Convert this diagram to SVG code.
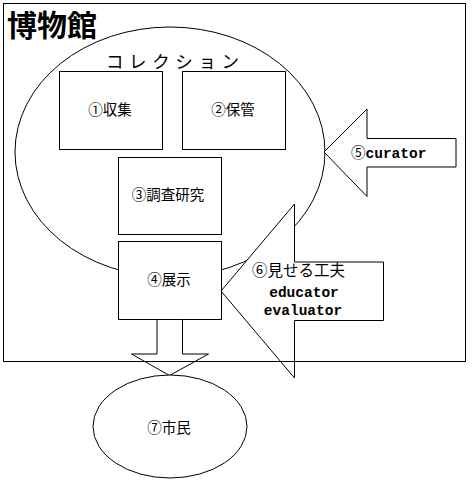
<svg xmlns="http://www.w3.org/2000/svg" width="475" height="480" viewBox="0 0 475 480">
<style>
.ln{fill:#fff;stroke:#000;stroke-width:1}
.no{fill:none;stroke:#000;stroke-width:1}
.jp{font-family:"Noto Sans CJK JP","Noto Sans",sans-serif;font-size:14.5px;fill:#000;text-anchor:middle}
.en{font-family:"Liberation Mono","DejaVu Sans Mono",monospace;font-weight:bold;font-size:14.5px;fill:#000}
</style>
<rect width="475" height="480" fill="#fff"/>
<g id="collection">
<ellipse class="ln" cx="170" cy="152" rx="155" ry="125"/>
<text x="106" y="68" font-family="'Noto Sans CJK JP',sans-serif" font-size="17.5" letter-spacing="5.6">コレクション</text>
</g>
<g id="n1"><rect class="ln" x="59.5" y="71.5" width="103" height="78"/><text class="jp" x="110" y="115">①収集</text></g>
<g id="n2"><rect class="ln" x="182.5" y="71.5" width="103" height="78"/><text class="jp" x="233" y="115">②保管</text></g>
<g id="n3"><rect class="ln" x="118.5" y="157.5" width="103" height="77"/><text class="jp" x="168" y="200">③調査研究</text></g>
<g id="n4"><rect class="ln" x="118.5" y="241.5" width="103" height="78"/><text class="jp" x="169" y="285">④展示</text></g>
<g id="connectors">
<polygon class="ln" points="157,319.5 182.5,319.5 182.5,354 208.5,354 169.5,375.5 131.5,354 157,354"/>
</g>
<g id="n5">
<polygon class="ln" points="324,152 367,109 367,138.5 456,138.5 456,167 367,167 367,196.5"/>
<text class="en" x="351" y="158"><tspan font-family="'Noto Sans CJK JP',sans-serif" font-weight="normal" font-size="14.5">⑤</tspan>curator</text>
</g>
<g id="n6">
<polygon class="ln" points="221,291 294.5,204 294.5,262 383.5,262 383.5,320.5 294.5,320.5 294.5,378"/>
<text x="252" y="276" font-family="'Noto Sans CJK JP',sans-serif" font-size="15.5">⑥見せる工夫</text>
<text class="en" x="304" y="297" text-anchor="middle">educator</text>
<text class="en" x="303" y="315" text-anchor="middle">evaluator</text>
</g>
<g id="museum">
<rect class="no" x="3.5" y="3.5" width="462" height="358"/>
<text x="7" y="36" font-family="'Noto Sans CJK JP',sans-serif" font-weight="bold" font-size="30">博物館</text>
</g>
<g id="n7">
<ellipse class="ln" cx="170" cy="426.5" rx="77" ry="51.5"/>
<text class="jp" x="169" y="433">⑦市民</text>
</g>
</svg>
